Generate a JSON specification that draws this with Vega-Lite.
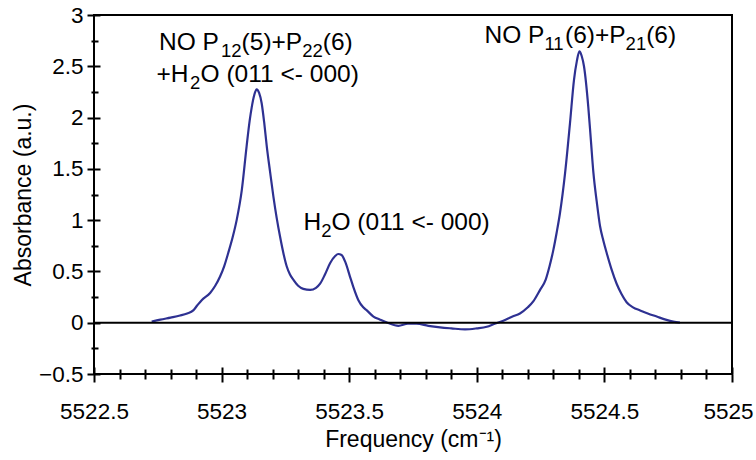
{
  "$schema": "https://vega.github.io/schema/vega-lite/v6.json",
  "width": 638,
  "height": 359,
  "autosize": "none",
  "padding": {"left": 94, "top": 15, "right": 24, "bottom": 86},
  "background": "white",
  "config": {"view": {"stroke": "black", "strokeWidth": 2}, "font": "Liberation Sans"},
  "resolve": {"axis": {"x": "independent", "y": "independent"}},
  "datasets": {
    "spectrum": [
      {"frequency": 5522.726, "absorbance": 0.01},
      {"frequency": 5522.76, "absorbance": 0.03},
      {"frequency": 5522.8, "absorbance": 0.05},
      {"frequency": 5522.837, "absorbance": 0.07},
      {"frequency": 5522.865, "absorbance": 0.09},
      {"frequency": 5522.889, "absorbance": 0.12},
      {"frequency": 5522.905, "absorbance": 0.17},
      {"frequency": 5522.922, "absorbance": 0.22},
      {"frequency": 5522.955, "absorbance": 0.29},
      {"frequency": 5522.975, "absorbance": 0.36},
      {"frequency": 5522.994, "absorbance": 0.45},
      {"frequency": 5523.01, "absorbance": 0.55},
      {"frequency": 5523.026, "absorbance": 0.68},
      {"frequency": 5523.043, "absorbance": 0.83},
      {"frequency": 5523.059, "absorbance": 1.0},
      {"frequency": 5523.079, "absorbance": 1.29},
      {"frequency": 5523.098, "absorbance": 1.72},
      {"frequency": 5523.11, "absorbance": 1.97},
      {"frequency": 5523.118, "absorbance": 2.1},
      {"frequency": 5523.128, "absorbance": 2.22},
      {"frequency": 5523.137, "absorbance": 2.275},
      {"frequency": 5523.147, "absorbance": 2.24},
      {"frequency": 5523.157, "absorbance": 2.14},
      {"frequency": 5523.167, "absorbance": 1.95},
      {"frequency": 5523.177, "absorbance": 1.72},
      {"frequency": 5523.19, "absorbance": 1.47},
      {"frequency": 5523.203, "absorbance": 1.23},
      {"frequency": 5523.216, "absorbance": 1.02},
      {"frequency": 5523.229, "absorbance": 0.84},
      {"frequency": 5523.242, "absorbance": 0.68},
      {"frequency": 5523.255, "absorbance": 0.55},
      {"frequency": 5523.268, "absorbance": 0.47},
      {"frequency": 5523.281, "absorbance": 0.42},
      {"frequency": 5523.3, "absorbance": 0.36},
      {"frequency": 5523.32, "absorbance": 0.33},
      {"frequency": 5523.347, "absorbance": 0.32},
      {"frequency": 5523.37, "absorbance": 0.34},
      {"frequency": 5523.386, "absorbance": 0.38},
      {"frequency": 5523.405, "absorbance": 0.47},
      {"frequency": 5523.425, "absorbance": 0.58},
      {"frequency": 5523.445, "absorbance": 0.65},
      {"frequency": 5523.457, "absorbance": 0.67},
      {"frequency": 5523.47, "absorbance": 0.66},
      {"frequency": 5523.485, "absorbance": 0.59},
      {"frequency": 5523.503, "absorbance": 0.45},
      {"frequency": 5523.516, "absorbance": 0.35},
      {"frequency": 5523.536, "absorbance": 0.22},
      {"frequency": 5523.555, "absorbance": 0.15},
      {"frequency": 5523.569, "absorbance": 0.12},
      {"frequency": 5523.595, "absorbance": 0.06},
      {"frequency": 5523.621, "absorbance": 0.03},
      {"frequency": 5523.65, "absorbance": 0.0},
      {"frequency": 5523.693, "absorbance": -0.03},
      {"frequency": 5523.73, "absorbance": -0.01},
      {"frequency": 5523.764, "absorbance": -0.01},
      {"frequency": 5523.81, "absorbance": -0.03},
      {"frequency": 5523.856, "absorbance": -0.045},
      {"frequency": 5523.9, "absorbance": -0.055},
      {"frequency": 5523.954, "absorbance": -0.065},
      {"frequency": 5524.0, "absorbance": -0.055},
      {"frequency": 5524.039, "absorbance": -0.04},
      {"frequency": 5524.07, "absorbance": -0.01},
      {"frequency": 5524.104, "absorbance": 0.02},
      {"frequency": 5524.14, "absorbance": 0.06},
      {"frequency": 5524.169, "absorbance": 0.09},
      {"frequency": 5524.2, "absorbance": 0.15},
      {"frequency": 5524.222, "absorbance": 0.21},
      {"frequency": 5524.248, "absorbance": 0.32},
      {"frequency": 5524.27, "absorbance": 0.42},
      {"frequency": 5524.285, "absorbance": 0.55},
      {"frequency": 5524.3, "absorbance": 0.71},
      {"frequency": 5524.313, "absorbance": 0.88},
      {"frequency": 5524.326, "absorbance": 1.07},
      {"frequency": 5524.346, "absorbance": 1.46},
      {"frequency": 5524.365, "absorbance": 1.94},
      {"frequency": 5524.381, "absorbance": 2.37},
      {"frequency": 5524.392, "absorbance": 2.55},
      {"frequency": 5524.402, "absorbance": 2.645},
      {"frequency": 5524.411, "absorbance": 2.6},
      {"frequency": 5524.42, "absorbance": 2.5},
      {"frequency": 5524.437, "absorbance": 2.1},
      {"frequency": 5524.447, "absorbance": 1.78},
      {"frequency": 5524.457, "absorbance": 1.46},
      {"frequency": 5524.47, "absorbance": 1.18},
      {"frequency": 5524.483, "absorbance": 0.94},
      {"frequency": 5524.496, "absorbance": 0.8},
      {"frequency": 5524.509, "absorbance": 0.68},
      {"frequency": 5524.528, "absorbance": 0.52},
      {"frequency": 5524.548, "absorbance": 0.38},
      {"frequency": 5524.567, "absorbance": 0.28},
      {"frequency": 5524.587, "absorbance": 0.2},
      {"frequency": 5524.612, "absorbance": 0.15},
      {"frequency": 5524.64, "absorbance": 0.12},
      {"frequency": 5524.67, "absorbance": 0.09},
      {"frequency": 5524.705, "absorbance": 0.06},
      {"frequency": 5524.74, "absorbance": 0.03},
      {"frequency": 5524.77, "absorbance": 0.01},
      {"frequency": 5524.796, "absorbance": 0.0}
    ],
    "annotations": [
      {"frequency": 5522.7547, "absorbance": 2.658, "kind": "main", "label": "NO P"},
      {"frequency": 5522.9976, "absorbance": 2.593, "kind": "sub", "label": "12"},
      {"frequency": 5523.0784, "absorbance": 2.658, "kind": "main", "label": "(5)+P"},
      {"frequency": 5523.3158, "absorbance": 2.593, "kind": "sub", "label": "22"},
      {"frequency": 5523.3966, "absorbance": 2.658, "kind": "main", "label": "(6)"},
      {"frequency": 5522.7449, "absorbance": 2.349, "kind": "main", "label": "+H"},
      {"frequency": 5522.8762, "absorbance": 2.281, "kind": "sub", "label": "2"},
      {"frequency": 5522.9177, "absorbance": 2.349, "kind": "main", "label": "O (011 <- 000)"},
      {"frequency": 5523.3209, "absorbance": 0.9035, "kind": "main", "label": "H"},
      {"frequency": 5523.3903, "absorbance": 0.835, "kind": "sub", "label": "2"},
      {"frequency": 5523.4306, "absorbance": 0.9035, "kind": "main", "label": "O (011 <- 000)"},
      {"frequency": 5524.0302, "absorbance": 2.723, "kind": "main", "label": "NO P"},
      {"frequency": 5524.2649, "absorbance": 2.658, "kind": "sub", "label": "11"},
      {"frequency": 5524.3456, "absorbance": 2.723, "kind": "main", "label": "(6)+P"},
      {"frequency": 5524.5831, "absorbance": 2.658, "kind": "sub", "label": "21"},
      {"frequency": 5524.6638, "absorbance": 2.723, "kind": "main", "label": "(6)"}
    ],
    "baseline": [{"absorbance": 0}]
  },
  "layer": [
    {
      "data": {"name": "spectrum"},
      "mark": {"type": "line", "color": "#2e3192", "strokeWidth": 2.2, "interpolate": "monotone"},
      "encoding": {
        "x": {
          "field": "frequency",
          "type": "quantitative",
          "scale": {"domain": [5522.5, 5525], "nice": false, "zero": false},
          "axis": {
            "orient": "bottom",
            "title": "Frequency (cm⁻¹)",
            "values": [5522.5, 5522.6, 5522.7, 5522.8, 5522.9, 5523, 5523.1, 5523.2, 5523.3, 5523.4, 5523.5, 5523.6, 5523.7, 5523.8, 5523.9, 5524, 5524.1, 5524.2, 5524.3, 5524.4, 5524.5, 5524.6, 5524.7, 5524.8, 5524.9, 5525],
            "tickCount": 100,
            "format": ".1~f",
            "labelExpr": "abs(datum.value*2-round(datum.value*2))<0.001 ? datum.label : ''",
            "domain": false,
            "grid": false,
            "tickColor": "black",
            "tickWidth": 2,
            "tickSize": {"condition": {"test": "abs(datum.value*2-round(datum.value*2))<0.001", "value": 8}, "value": 5},
            "labelPadding": 18,
            "labelOffset": {"condition": {"test": "datum.value > 5524.99", "value": -4}, "value": 0},
            "labelFontSize": 22.5,
            "labelColor": "black",
            "labelOverlap": false,
            "labelFlush": false,
            "titleFontSize": 23,
            "titleFontWeight": "normal",
            "titleColor": "black",
            "titlePadding": 6
          }
        },
        "y": {
          "field": "absorbance",
          "type": "quantitative",
          "scale": {"domain": [-0.5, 3], "nice": false, "zero": false},
          "axis": {
            "orient": "left",
            "title": "Absorbance (a.u.)",
            "values": [-0.5, -0.25, 0, 0.25, 0.5, 0.75, 1, 1.25, 1.5, 1.75, 2, 2.25, 2.5, 2.75, 3],
            "tickCount": 100,
            "format": ".1~f",
            "labelExpr": "abs(datum.value*2-round(datum.value*2))<0.001 ? datum.label : ''",
            "domain": false,
            "grid": false,
            "tickColor": "black",
            "tickWidth": 2,
            "tickSize": {"condition": {"test": "abs(datum.value*2-round(datum.value*2))<0.001", "value": 7}, "value": 3},
            "labelPadding": 4,
            "labelFontSize": 22.5,
            "labelColor": "black",
            "labelOverlap": false,
            "labelFlush": false,
            "titleFontSize": 23,
            "titleFontWeight": "normal",
            "titleColor": "black",
            "titlePadding": 3
          }
        }
      }
    },
    {
      "data": {"name": "baseline"},
      "mark": {"type": "rule", "color": "black", "strokeWidth": 2},
      "encoding": {"y": {"field": "absorbance", "type": "quantitative", "axis": null}}
    },
    {
      "data": {"name": "annotations"},
      "mark": {"type": "text", "align": "left", "baseline": "alphabetic", "color": "black"},
      "encoding": {
        "x": {
          "field": "frequency",
          "type": "quantitative",
          "axis": {
            "orient": "bottom",
            "title": null,
            "labels": false,
            "domain": false,
            "grid": false,
            "values": [5522.5, 5522.6, 5522.7, 5522.8, 5522.9, 5523, 5523.1, 5523.2, 5523.3, 5523.4, 5523.5, 5523.6, 5523.7, 5523.8, 5523.9, 5524, 5524.1, 5524.2, 5524.3, 5524.4, 5524.5, 5524.6, 5524.7, 5524.8, 5524.9, 5525],
            "tickCount": 100,
            "tickColor": "black",
            "tickWidth": 2,
            "tickSize": {"condition": {"test": "abs(datum.value*2-round(datum.value*2))<0.001", "value": -7}, "value": -5}
          }
        },
        "y": {
          "field": "absorbance",
          "type": "quantitative",
          "axis": {
            "orient": "left",
            "title": null,
            "labels": false,
            "domain": false,
            "grid": false,
            "values": [-0.5, -0.25, 0, 0.25, 0.5, 0.75, 1, 1.25, 1.5, 1.75, 2, 2.25, 2.5, 2.75, 3],
            "tickCount": 100,
            "tickColor": "black",
            "tickWidth": 2,
            "tickSize": {"condition": {"test": "abs(datum.value*2-round(datum.value*2))<0.001", "value": -6}, "value": -4}
          }
        },
        "text": {"field": "label"},
        "size": {"field": "kind", "type": "nominal", "scale": {"domain": ["main", "sub"], "range": [24.5, 18.5]}, "legend": null}
      }
    }
  ]
}
